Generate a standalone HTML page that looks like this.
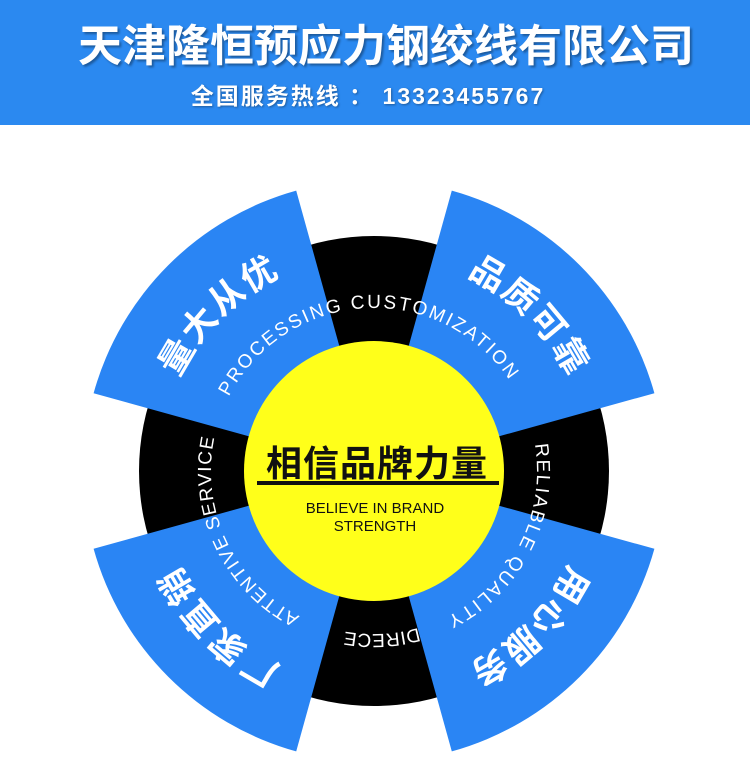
<!DOCTYPE html>
<html><head><meta charset="utf-8"><style>
html,body{margin:0;padding:0;background:#fff;}
body{width:750px;height:771px;overflow:hidden;}
svg{display:block;}
</style></head><body>
<svg width="750" height="771" viewBox="0 0 750 771" xmlns="http://www.w3.org/2000/svg">
<defs>
<path id="ce" d="M211,471 A163,163 0 1 1 537,471 A163,163 0 1 1 211,471 A163,163 0 1 1 537,471 A163,163 0 1 1 211,471"/>
<path id="cc" d="M158,471 A216,216 0 1 1 590,471 A216,216 0 1 1 158,471 A216,216 0 1 1 590,471 A216,216 0 1 1 158,471"/>
</defs>
<rect x="0" y="0" width="750" height="125" fill="#2b89f0"/>
<g font-family="'Liberation Sans','Noto Sans CJK SC',sans-serif" font-weight="700" fill="#fff" text-anchor="middle">
<text x="386" y="61" font-size="44" style="text-shadow:2px 2px 2px rgba(0,0,0,.35)">天津隆恒预应力钢绞线有限公司</text>
<text x="368" y="104" font-size="23" letter-spacing="2" style="text-shadow:1px 1px 2px rgba(0,0,0,.35)">全国服务热线 ： 13323455767</text>
</g>
<circle cx="374" cy="471" r="235" fill="#000"/>
<g fill="#2a85f4">
<path d="M374,471 L93.6,393.2 A291,291 0 0 1 296.2,190.6 Z"/>
<path d="M374,471 L451.8,190.6 A291,291 0 0 1 654.4,393.2 Z"/>
<path d="M374,471 L654.4,548.8 A291,291 0 0 1 451.8,751.4 Z"/>
<path d="M374,471 L296.2,751.4 A291,291 0 0 1 93.6,548.8 Z"/>
</g>
<circle cx="374" cy="471" r="130" fill="#ffff1a"/>
<g font-family="'Liberation Sans',sans-serif" font-size="19" fill="#fff">
<text letter-spacing="2.2"><textPath href="#ce" startOffset="77">PROCESSING CUSTOMIZATION</textPath></text>
<text letter-spacing="2"><textPath href="#ce" startOffset="485">RELIABLE QUALITY</textPath></text>
<text letter-spacing="0.5"><textPath href="#ce" startOffset="723">DIRECE</textPath></text>
<text letter-spacing="1.3"><textPath href="#ce" startOffset="845">ATTENTIVE SERVICE</textPath></text>
</g>
<g font-family="'Liberation Sans','Noto Sans CJK SC',sans-serif" font-weight="700" font-size="35" fill="#fff" text-anchor="middle" letter-spacing="2">
<text><textPath href="#cc" startOffset="170">量大从优</textPath></text>
<text><textPath href="#cc" startOffset="509">品质可靠</textPath></text>
<text><textPath href="#cc" startOffset="848">用心服务</textPath></text>
<text><textPath href="#cc" startOffset="1187">厂家直销</textPath></text>
</g>
<g font-family="'Liberation Sans','Noto Sans CJK SC',sans-serif" text-anchor="middle" fill="#111">
<text x="377" y="476" font-size="36" font-weight="700" letter-spacing="1">相信品牌力量</text>
<rect x="257" y="481" width="242" height="4" fill="#111"/>
<text x="375" y="513" font-size="15">BELIEVE IN BRAND</text>
<text x="375" y="531" font-size="15">STRENGTH</text>
</g>
</svg>
</body></html>
